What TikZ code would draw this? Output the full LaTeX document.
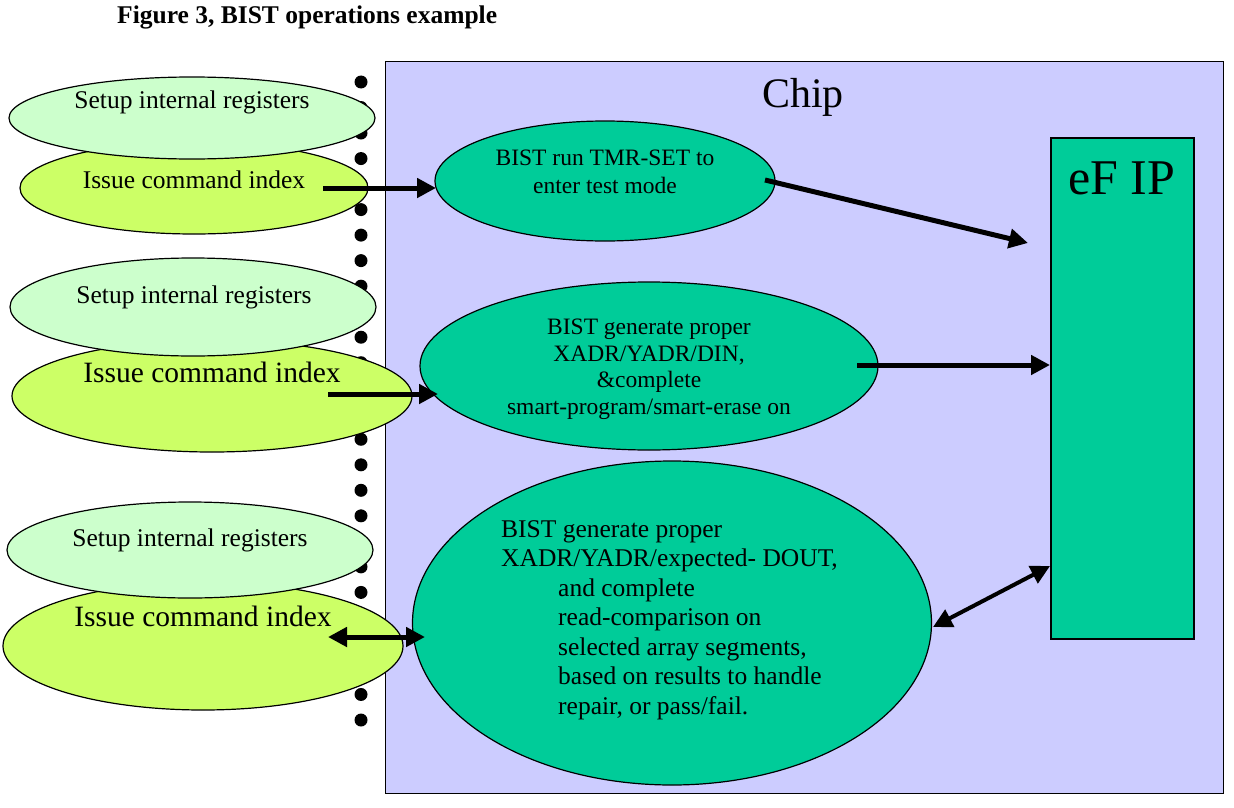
\documentclass[tikz,border=0pt]{standalone}
\usepackage{fontspec}
\setmainfont{Liberation Serif}
\usepackage{tikz}
\usetikzlibrary{positioning}
\usetikzlibrary{shapes.geometric, arrows.meta}

\definecolor{chipblue}{HTML}{CCCCFF}
\definecolor{setupgreen}{HTML}{CCFFCC}
\definecolor{issuelime}{HTML}{CCFF66}
\definecolor{bistgreen}{HTML}{00CC99}

\begin{document}
\begin{tikzpicture}[x=1pt, y=-1pt]
\tikzstyle{setup} = [ellipse, draw, line width=1.2pt, fill=setupgreen, inner sep=0pt]
\tikzstyle{issue} = [ellipse, draw, line width=1.2pt, fill=issuelime, inner sep=0pt]
\tikzstyle{bist} = [ellipse, draw, line width=1.2pt, fill=bistgreen, inner sep=0pt]
\tikzstyle{txt} = [inner sep=0pt, anchor=base, font=\fontsize{25.5}{30}\selectfont]
\tikzstyle{bigtxt} = [inner sep=0pt, anchor=base, font=\fontsize{29.5}{34}\selectfont]
\tikzstyle{arrow} = [line width=5pt, -{Triangle[length=19pt,width=19pt]}]
\tikzstyle{dblarrow} = [line width=5pt, {Triangle[length=19pt,width=19pt]}-{Triangle[length=19pt,width=19pt]}]

\useasboundingbox (0,0) rectangle (1234,808);

\node (title) [anchor=base west, inner sep=0pt, font=\bfseries\fontsize{25.5}{30}\selectfont] at (117,24) {Figure 3, BIST operations example};

% chip
\node (chip) [draw, line width=1.2pt, fill=chipblue, anchor=north west, inner sep=0pt, minimum width=838pt, minimum height=732pt] at (385,61) {};
\node (chipname) [anchor=base west, inner sep=0pt, font=\fontsize{42}{48}\selectfont] at (762,107) {Chip};

% dotted separator
\foreach \i in {0,...,25}
  \fill ({361},{82+25.52*\i}) circle (6.5pt);

% host side
\node (issueA) [issue, minimum width=348pt, minimum height=92pt] at (194,188) {};
\node (setupA) [setup, minimum width=366pt, minimum height=82pt] at (192,118) {};
\node (issueB) [issue, minimum width=400pt, minimum height=112pt] at (212,396) {};
\node (setupB) [setup, minimum width=366pt, minimum height=98pt] at (193,307) {};
\node (issueC) [issue, minimum width=400pt, minimum height=128pt] at (203,646) {};
\node (setupC) [setup, minimum width=366pt, minimum height=96pt] at (190,550) {};

\node (setupA-t) [txt] at (192,108) {Setup internal registers};
\node (issueA-t) [txt] at (194,188) {Issue command index};
\node (setupB-t) [txt] at (194,303) {Setup internal registers};
\node (issueB-t) [bigtxt] at (212,382) {Issue command index};
\node (setupC-t) [txt] at (190,546) {Setup internal registers};
\node (issueC-t) [bigtxt] at (203,626) {Issue command index};

% BIST steps
\node (tmrset) [bist, minimum width=340pt, minimum height=120pt] at (605,181) {};
\node (pgmerase) [bist, minimum width=458pt, minimum height=168pt] at (649,366) {};
\node (readcmp) [bist, minimum width=519pt, minimum height=324pt] at (672,623) {};
\node (efip) [draw, line width=1.5pt, fill=bistgreen, anchor=north west, inner sep=0pt, minimum width=143pt, minimum height=501pt] at (1050,137) {};

\node (tmrset-t) [inner sep=0pt, anchor=north, align=center, font=\fontsize{23.5}{27.5}\selectfont] at (605,150) {BIST run TMR-SET to\\enter test mode};
\node (pgmerase-t) [inner sep=0pt, anchor=north, align=center, font=\fontsize{23.5}{26.5}\selectfont] at (649,319) {BIST generate proper\\XADR/YADR/DIN,\\\&complete\\smart-program/smart-erase on};
\node (readcmp-t) [inner sep=0pt, anchor=north west, align=left, font=\fontsize{25.5}{29.5}\selectfont] at (501,520) {BIST generate proper\\XADR/YADR/expected- DOUT,\\\hspace*{57pt}and complete\\\hspace*{57pt}read-comparison on\\\hspace*{57pt}selected array segments,\\\hspace*{57pt}based on results to handle\\\hspace*{57pt}repair, or pass/fail.};
\node (efip-t) [anchor=base west, inner sep=0pt, font=\fontsize{50}{56}\selectfont] at (1068,194) {eF IP};

% connectors
\coordinate (a1s) at (323,188);
\coordinate (a1e) at (436,188);
\coordinate (a2s) at (765,180);
\coordinate (a2e) at (1028,243);
\coordinate (a3s) at (857,365);
\coordinate (a4s) at (328,394);
\coordinate (a4e) at (438,394);
\coordinate (a5s) at (328,637);
\coordinate (a5e) at (425,637);
\coordinate (a6s) at (933,627);
\coordinate (a6e) at (1050,566);

\draw [arrow] (a1s) -- (a1e);
\draw [arrow] (a2s) -- (a2e);
\draw [arrow] (a3s) -- (a3s -| efip.west);
\draw [arrow] (a4s) -- (a4e);
\draw [dblarrow] (a5s) -- (a5e);
\draw [dblarrow, line width=4pt] (a6s) -- (a6e);
\end{tikzpicture}
\end{document}
